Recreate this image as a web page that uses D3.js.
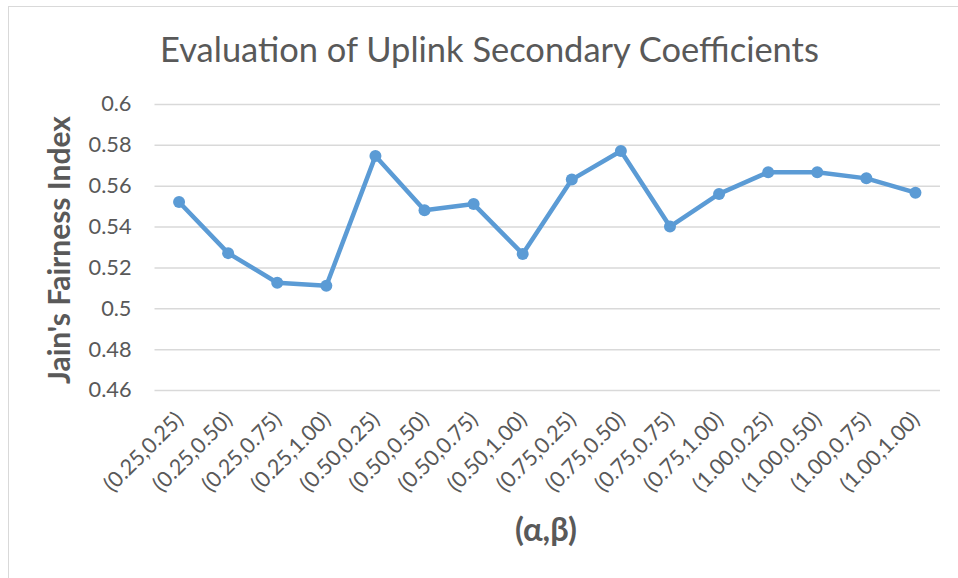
<!DOCTYPE html>
<html><head><meta charset="utf-8">
<script src="https://cdn.jsdelivr.net/npm/d3@7"></script>
<style>body{margin:0;background:#fff}svg{display:block}</style>
</head><body>
<svg id="c" width="958" height="578"></svg>
<script>
const categories = ["(0.25,0.25)","(0.25,0.50)","(0.25,0.75)","(0.25,1.00)","(0.50,0.25)","(0.50,0.50)","(0.50,0.75)","(0.50,1.00)","(0.75,0.25)","(0.75,0.50)","(0.75,0.75)","(0.75,1.00)","(1.00,0.25)","(1.00,0.50)","(1.00,0.75)","(1.00,1.00)"];
const values = [0.552,0.527,0.5125,0.511,0.5745,0.548,0.551,0.5266,0.563,0.577,0.540,0.556,0.5666,0.5666,0.5636,0.5566];
const yTicks = [0.46,0.48,0.5,0.52,0.54,0.56,0.58,0.6];
const title = "Evaluation of Uplink Secondary Coefficients";
const yTitle = "Jain's Fairness Index";
const xTitle = "(α,β)";

(function(){
const svg = d3.select("#c");
const FONT = "Lato, 'Open Sans', sans-serif";
const gray = "#595959";

svg.append("rect").attr("x",8.5).attr("y",6.5).attr("width",1000).attr("height",700)
  .attr("fill","none").attr("stroke","#d9d9d9");

const pl = 154.5, pr = 940, pt = 104, pb = 390;
const x = d3.scalePoint().domain(categories).range([pl, pr]).padding(0.5);
const y = d3.scaleLinear().domain([0.46,0.6]).range([pb, pt]);

function fitSize(sel, targetW){
  const w = sel.node().getComputedTextLength();
  const fs = parseFloat(sel.attr("font-size"));
  return fs*targetW/w;
}

const t = svg.append("text").attr("x",489.5).attr("y",62).attr("text-anchor","middle")
  .attr("font-family",FONT).attr("font-size",28).attr("fill",gray).text(title);
t.attr("font-size", fitSize(t, 659));

const yAxis = d3.axisLeft(y).tickValues(yTicks).tickSize(-(pr-pl)).tickFormat(d3.format("~g"));
const gy = svg.append("g").attr("transform",`translate(${pl},0)`).call(yAxis);
gy.select(".domain").remove();
gy.selectAll(".tick line").attr("stroke","#d9d9d9").attr("stroke-width",1.5);
const yt = gy.selectAll(".tick text").attr("x",-23).attr("font-family",FONT).attr("font-size",16).attr("fill",gray);
const ref58 = yt.filter(d=>d===0.58);
const yfs = fitSize(ref58, 43);
yt.attr("font-size", yfs);

const xAxis = d3.axisBottom(x).tickSize(0);
const gx = svg.append("g").attr("transform",`translate(0,${pb})`).call(xAxis);
gx.select(".domain").remove();
const xt = gx.selectAll(".tick text").attr("font-family",FONT).attr("font-size",15).attr("fill",gray)
  .attr("text-anchor","end").attr("dy",0).attr("y",0)
  .attr("transform","translate(5,31) rotate(-45)");
const xfs = fitSize(d3.select(xt.nodes()[0]), 102);
xt.attr("font-size", xfs);

const ytl = svg.append("text").attr("transform","translate(70,250) rotate(-90)").attr("text-anchor","middle")
  .attr("font-family",FONT).attr("font-weight","bold").attr("font-size",20).attr("fill",gray).text(yTitle);
ytl.attr("font-size", fitSize(ytl, 268));
const xtl = svg.append("text").attr("x",546).attr("y",541).attr("text-anchor","middle")
  .attr("font-family",FONT).attr("font-weight","bold").attr("font-size",21).attr("fill",gray).text(xTitle);
xtl.attr("font-size", fitSize(xtl, 62));

const line = d3.line().x((d,i)=>x(categories[i])).y(d=>y(d));
svg.append("path").datum(values).attr("d",line).attr("fill","none")
  .attr("stroke","#5B9BD5").attr("stroke-width",4.5).attr("stroke-linejoin","round");
svg.selectAll("circle.pt").data(values).join("circle").attr("class","pt")
  .attr("cx",(d,i)=>x(categories[i])).attr("cy",d=>y(d)).attr("r",6).attr("fill","#5B9BD5");
})();
</script>
</body></html>
